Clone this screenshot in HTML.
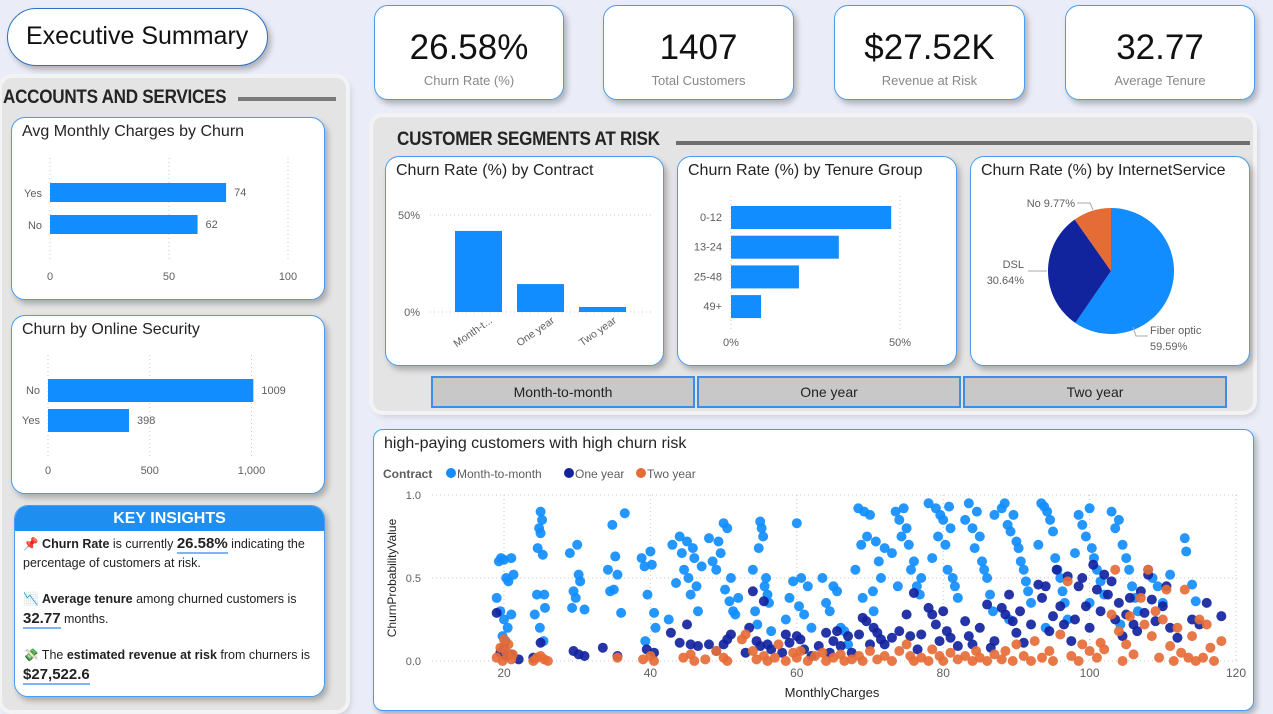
<!DOCTYPE html>
<html><head><meta charset="utf-8">
<style>
*{box-sizing:border-box;margin:0;padding:0}
body{width:1273px;height:714px;overflow:hidden;background:#eaedf8;font-family:"Liberation Sans","DejaVu Sans",sans-serif;position:relative;color:#252423}
.abs{position:absolute}
.card{position:absolute;background:#fff;border:1.5px solid #4a9cf0;border-radius:14px;box-shadow:3px 4px 6px rgba(0,0,0,0.25)}
.panel{position:absolute;background:#e4e4e4;border-radius:10px;box-shadow:0 0 0 4px #f3f3f6,3px 4px 8px rgba(0,0,0,0.2)}
.ttl{position:absolute;left:10px;top:5px;font-size:16px;color:#252423;white-space:nowrap}
.kv{position:absolute;left:0;right:0;top:22px;text-align:center;font-size:35px;color:#111}
.kl{position:absolute;left:0;right:0;top:67px;text-align:center;font-size:13px;color:#888}
.hdr{position:absolute;font-weight:bold;font-size:19px;color:#252423;letter-spacing:-0.3px;white-space:nowrap;transform-origin:0 0;transform:scaleX(0.9)}
.btn{position:absolute;top:376px;height:32px;background:#c8c8c8;border:2px solid #3a8ee6;text-align:center;line-height:28px;font-size:14px;color:#222}
.ins{font-size:12.5px;line-height:19px;color:#222}
.ins b.u{border-bottom:2px solid #7fb6f0;font-size:15px}
</style></head><body>
<div class="card" style="left:7px;top:8px;width:261px;height:58px;border-radius:29px;border-color:#2f6fc4">
 <div style="position:absolute;left:18px;top:13px;font-size:25px;color:#111">Executive Summary</div></div>

<div class="card" style="left:374px;top:5px;width:190px;height:95px"><div class="kv">26.58%</div><div class="kl">Churn Rate (%)</div></div>
<div class="card" style="left:603px;top:5px;width:191px;height:95px"><div class="kv">1407</div><div class="kl">Total Customers</div></div>
<div class="card" style="left:834px;top:5px;width:191px;height:95px"><div class="kv">$27.52K</div><div class="kl">Revenue at Risk</div></div>
<div class="card" style="left:1065px;top:5px;width:190px;height:95px"><div class="kv">32.77</div><div class="kl">Average Tenure</div></div>

<div class="panel" style="left:2px;top:78px;width:344px;height:632px"></div>
<div class="hdr" style="left:3px;top:87px">ACCOUNTS AND SERVICES</div>
<div class="abs" style="left:238px;top:97px;width:98px;height:4px;background:#7a7a7a"></div>
<div class="card" style="left:11px;top:117px;width:314px;height:183px"><div class="ttl">Avg Monthly Charges by Churn</div></div>
<div class="card" style="left:11px;top:315px;width:314px;height:179px"><div class="ttl">Churn by Online Security</div></div>
<div class="card" style="left:14px;top:505px;width:311px;height:192px;overflow:hidden;border-color:#4a9cf0">
 <div style="height:25px;background:#1f8ef1;color:#fff;text-align:center;font-weight:bold;font-size:16px;line-height:26px">KEY INSIGHTS</div>
 <div class="ins" style="padding:3px 6px 0 8px">
  <div>📌 <b>Churn Rate</b> is currently <b class="u">26.58%</b> indicating the percentage of customers at risk.</div>
  <div style="margin-top:17px">📉 <b>Average tenure</b> among churned customers is <b class="u">32.77</b> months.</div>
  <div style="margin-top:17px">💸 The <b>estimated revenue at risk</b> from churners is <b class="u">$27,522.6</b></div>
 </div></div>

<div class="panel" style="left:373px;top:117px;width:880px;height:294px"></div>
<div class="hdr" style="left:397px;top:129px">CUSTOMER SEGMENTS AT RISK</div>
<div class="abs" style="left:676px;top:141px;width:574px;height:4px;background:#6e6e6e"></div>
<div class="card" style="left:385px;top:156px;width:279px;height:210px"><div class="ttl">Churn Rate (%) by Contract</div></div>
<div class="card" style="left:677px;top:156px;width:280px;height:210px"><div class="ttl">Churn Rate (%) by Tenure Group</div></div>
<div class="card" style="left:970px;top:156px;width:280px;height:210px"><div class="ttl">Churn Rate (%) by InternetService</div></div>
<div class="btn" style="left:431px;width:264px">Month-to-month</div>
<div class="btn" style="left:697px;width:264px">One year</div>
<div class="btn" style="left:963px;width:264px">Two year</div>

<div class="card" style="left:373px;top:429px;width:881px;height:282px;border-radius:10px"><div class="ttl" style="top:5px">high-paying customers with high churn risk</div></div>

<svg id="charts" class="abs" style="left:0;top:0" width="1273" height="714" font-family="Liberation Sans, sans-serif"></svg>

<script>
const chargeCats=["Yes","No"];
const chargeVals=[74,62];
const chargeTicks=[0,50,100];
const secCats=["No","Yes"];
const secVals=[1009,398];
const secTicks=[0,500,1000];
const secTickLabels=["0","500","1,000"];
const contractCats=["Month-t...","One year","Two year"];
const contractVals=[41.8,14.4,2.6];
const tenureCats=["0-12","13-24","25-48","49+"];
const tenureVals=[47.4,31.9,20.1,8.9];
const pieCats=["Fiber optic","DSL","No"];
const pieVals=[59.59,30.64,9.77];
const scatterXTicks=[20,40,60,80,100,120];
const scatterYTicks=[0,0.5,1];
const mtm=[[19,0.38],[19.3,0.6],[19.6,0.62],[20,0.61],[20.3,0.5],[20.6,0.48],[21,0.62],[21.3,0.52],[19.5,0.3],[20,0.25],[20.5,0.2],[19.8,0.15],[21,0.28],[20.2,0.12],
[24.5,0.4],[25,0.9],[25.2,0.85],[24.8,0.8],[25,0.77],[24.6,0.68],[25.3,0.64],[25.5,0.4],[25.6,0.32],[24.9,0.2],[25.4,0.12],[24.2,0.28],
[29,0.65],[29.5,0.42],[29.8,0.38],[30,0.7],[30.2,0.52],[30.4,0.48],[29.3,0.32],[31,0.31],
[34.2,0.55],[34.5,0.42],[34.8,0.82],[35.2,0.63],[35.5,0.52],[36,0.29],[36.5,0.89],[35,0.43],
[38.8,0.62],[39.2,0.57],[39.6,0.4],[40,0.66],[40.2,0.58],[40.5,0.29],[40.7,0.2],[39.3,0.12],
[43,0.7],[43.5,0.47],[44,0.75],[44.3,0.65],[44.6,0.55],[45,0.72],[45.2,0.5],[45.5,0.4],[45.8,0.68],[46,0.62],[46.3,0.45],[46.5,0.3],[47,0.57],[42.5,0.25],
[48,0.74],[48.5,0.6],[49,0.55],[49.3,0.72],[49.6,0.65],[50,0.83],[50.2,0.43],[50.5,0.8],[50.8,0.36],[51,0.5],[51.3,0.3],[51.6,0.28],[52,0.38],
[54,0.55],[54.3,0.3],[54.6,0.22],[55,0.84],[55.2,0.8],[55.4,0.75],[55.6,0.45],[55.8,0.5],[56,0.4],[56.2,0.35],[54.8,0.68],[56.5,0.18],
[58.5,0.25],[59,0.38],[59.5,0.48],[60,0.83],[60.3,0.33],[60.6,0.5],[61,0.28],[61.5,0.45],[62,0.2],
[63.5,0.5],[64,0.35],[64.5,0.3],[65,0.45],[65.5,0.42],[66,0.2],[66.5,0.18],[67,0.1],
[68,0.55],[68.4,0.92],[68.8,0.7],[69.2,0.9],[69.6,0.75],[70,0.88],[70.4,0.42],[70.8,0.72],[71.2,0.6],[71.5,0.5],[72,0.68],[69,0.38],[70.5,0.3],
[73,0.65],[73.5,0.9],[74,0.85],[74.3,0.75],[74.6,0.92],[75,0.8],[75.3,0.7],[75.6,0.55],[76,0.6],[76.4,0.45],[76.8,0.4],[77,0.5],[73.8,0.45],
[78,0.95],[78.5,0.62],[79,0.92],[79.3,0.75],[79.6,0.88],[80,0.85],[80.3,0.7],[80.6,0.55],[81,0.8],[81.3,0.5],[81.6,0.45],[82,0.38],[80.8,0.93],
[83,0.85],[83.5,0.95],[84,0.8],[84.3,0.68],[84.6,0.9],[85,0.75],[85.3,0.6],[85.6,0.55],[86,0.5],[86.4,0.4],[86.8,0.3],[87,0.88],
[88,0.92],[88.4,0.95],[88.8,0.82],[89.2,0.78],[89.6,0.88],[90,0.72],[90.3,0.68],[90.6,0.6],[91,0.55],[91.3,0.48],[91.6,0.42],[92,0.35],[89,0.25],
[93,0.7],[93.4,0.95],[93.8,0.93],[94.2,0.9],[94.6,0.85],[95,0.78],[95.3,0.62],[95.6,0.55],[96,0.5],[96.3,0.42],[96.6,0.35],[97,0.25],[94,0.2],
[98,0.65],[98.5,0.88],[99,0.82],[99.5,0.75],[100,0.92],[100.3,0.68],[100.6,0.62],[101,0.55],[101.5,0.48],[102,0.4],[100,0.35],
[103,0.9],[103.5,0.8],[104,0.85],[104.5,0.7],[105,0.62],[105.4,0.55],[105.8,0.45],[106.2,0.38],[106.6,0.3],[104.2,0.22],
[108,0.55],[108.6,0.5],[109.3,0.45],[110,0.35],[111,0.52],[113,0.74],[113.2,0.66],[114,0.46],[114.5,0.36]];
const oneYear=[[19,0.29],[19.5,0.05],[20,0.08],[20.3,0.03],[21,0.04],[22,0.01],[24,0.02],[25,0.11],[29.5,0.06],[30.2,0.04],[31,0.03],[33.5,0.08],[35.5,0.03],[39.5,0.07],[40.5,0.05],
[42.8,0.17],[44,0.11],[45,0.22],[45.5,0.1],[46.5,0.09],[48,0.1],[49,0.06],[50,0.1],[50.5,0.13],[51,0.16],[53,0.05],[53.5,0.2],[54,0.42],[54.5,0.12],[55,0.09],[55.5,0.36],[56,0.1],[56.5,0.07],[58,0.05],[58.5,0.16],[59,0.11],[60,0.15],[60.5,0.13],[61,0.07],[62,0.03],[63,0.09],[64,0.17],[64.5,0.05],[65,0.12],[65.5,0.18],[66,0.09],[67,0.15],[67.5,0.05],
[68.5,0.16],[69,0.26],[69.5,0.24],[70,0.1],[70.5,0.2],[71,0.17],[71.5,0.13],[72,0.1],[73,0.14],[74,0.18],[75,0.28],[75.5,0.15],[76,0.41],[76.5,0.07],[77,0.16],
[78,0.32],[78.5,0.28],[79,0.22],[79.5,0.12],[80,0.3],[80.5,0.18],[81,0.14],[82,0.09],[83,0.24],[83.5,0.15],[84,0.1],[85,0.2],[86,0.34],[86.5,0.08],[87,0.12],
[88,0.32],[88.5,0.28],[89,0.4],[89.5,0.24],[90,0.17],[90.5,0.3],[91,0.11],[92,0.22],[93,0.46],[93.5,0.38],[94,0.45],[94.5,0.18],[95,0.27],[95.5,0.55],[96,0.33],[96.5,0.22],[97,0.51],[97.5,0.12],
[98,0.25],[98.5,0.45],[99,0.5],[99.5,0.33],[100,0.2],[100.5,0.58],[101,0.43],[101.5,0.3],[102,0.52],[102.5,0.4],[103,0.48],[103.5,0.25],[104,0.35],[104.5,0.15],[105,0.28],[105.5,0.38],[106,0.22],[106.5,0.18],[107,0.42],[107.5,0.29],[108,0.52],[108.5,0.37],[109,0.24],[110,0.33],[110.5,0.45],[111,0.2],[112,0.14],[114,0.25],[115,0.22],[116,0.35],[118,0.27]];
const twoYear=[[19,0.02],[19.5,0.08],[20,0.13],[20.3,0.05],[20.6,0.1],[21,0.01],[21.2,0.04],[19.8,0.0],[24.5,0.02],[25,0.03],[25.5,0.01],[26,0.0],[24,0.0],[35.5,0.02],[39,0.01],[40,0.03],[40.5,0.0],[44.5,0.02],[45.5,0.04],[46,0.0],[47.5,0.01],[49,0.06],[50,0.02],[50.5,0.0],[52.5,0.13],[53,0.16],[54,0.06],[54.5,0.01],[55.5,0.03],[56,0.0],[57,0.02],[57.5,0.1],[58.5,0.0],[59.5,0.05],[60,0.02],[60.5,0.06],[61.5,0.0],[62.5,0.03],[63.5,0.05],[64,0.0],[65,0.02],[66,0.04],[66.5,0.0],[67.5,0.01],[68.5,0.03],[69,0.0],[70,0.06],[71,0.01],[72,0.03],[73,0.0],[74,0.06],[75,0.1],[75.5,0.03],[76,0.0],[77,0.02],[78,0.0],[78.5,0.07],[79.5,0.03],[80,0.0],[81,0.05],[82,0.01],[83,0.03],[84,0.0],[84.5,0.06],[85,0.02],[86,0.0],[87,0.04],[88,0.01],[88.5,0.06],[89.5,0.0],[90,0.1],[91,0.03],[92,0.0],[92.5,0.12],[93.5,0.02],[94.5,0.06],[95,0.0],[96,0.16],[97,0.48],[97.5,0.03],[98.5,0.0],[99,0.1],[100,0.06],[101,0.02],[101.5,0.11],[102,0.07],[103,0.28],[103.5,0.55],[104,0.18],[104.5,0.0],[105,0.1],[105.5,0.27],[106,0.04],[107,0.38],[107.5,0.22],[108,0.55],[108.5,0.15],[109,0.3],[109.5,0.02],[110,0.25],[110.5,0.43],[111,0.09],[111.5,0.0],[112,0.2],[112.5,0.05],[113,0.43],[113.5,0.02],[114,0.15],[114.5,0.0],[115,0.25],[115.5,0.02],[116,0.22],[116.5,0.08],[117,0.0],[118,0.12]];

const svg=document.getElementById('charts');
const NS='http://www.w3.org/2000/svg';
function mk(tag,at,parent){const e=document.createElementNS(NS,tag);for(const k in at)e.setAttribute(k,at[k]);(parent||svg).appendChild(e);return e;}
function txt(s,at){const t=mk('text',at);t.textContent=s;return t;}
const BLUE='#118DFF',NAVY='#12239E',ORANGE='#E66C37',GRID='#c8c8c8',LBL='#605E5C';

// Avg monthly charges
{const sx=v=>50+v*2.38;const y0=183,step=32,bh=19;
chargeTicks.forEach(t=>{const l=mk('line',{x1:sx(t),x2:sx(t),y1:158,y2:262,stroke:GRID,'stroke-dasharray':'1,3'});
 const tt=txt(String(t),{x:sx(t),y:280,'font-size':11,fill:LBL,'text-anchor':'middle'});});
chargeCats.forEach((c,i)=>{const y=y0+i*step;
 const r=mk('rect',{x:sx(0),y:y,width:sx(chargeVals[i])-sx(0),height:bh,fill:BLUE});
 const a=txt(c,{x:42,y:y+14,'font-size':11,fill:LBL,'text-anchor':'end'});
 const b=txt(String(chargeVals[i]),{x:sx(chargeVals[i])+8,y:y+13,'font-size':11,fill:LBL});});}

// Online security
{const sx=v=>48+v*0.2035;const y0=379,step=30,bh=23;
secTicks.forEach((t,i)=>{const l=mk('line',{x1:sx(t),x2:sx(t),y1:355,y2:458,stroke:GRID,'stroke-dasharray':'1,3'});
 const tt=txt(secTickLabels[i],{x:sx(t),y:474,'font-size':11,fill:LBL,'text-anchor':'middle'});});
secCats.forEach((c,i)=>{const y=y0+i*step;
 const r=mk('rect',{x:sx(0),y:y,width:sx(secVals[i])-sx(0),height:bh,fill:BLUE});
 const a=txt(c,{x:40,y:y+15,'font-size':11,fill:LBL,'text-anchor':'end'});
 const b=txt(String(secVals[i]),{x:sx(secVals[i])+8,y:y+15,'font-size':11,fill:LBL});});}

// Contract column
{const sy=v=>312-v*1.94;
[0,50].forEach(t=>{const l=mk('line',{x1:430,x2:652,y1:sy(t),y2:sy(t),stroke:GRID,'stroke-dasharray':'1,3'});
 const tt=txt(t+'%',{x:420,y:sy(t)+4,'font-size':11,fill:LBL,'text-anchor':'end'});});
contractCats.forEach((c,i)=>{const x=455+i*62;
 const r=mk('rect',{x:x,y:sy(contractVals[i]),width:47,height:sy(0)-sy(contractVals[i]),fill:BLUE});
 const cx=x+38,cy=322;const a=txt(c,{x:cx,y:cy,'font-size':10.5,fill:LBL,'text-anchor':'end',transform:`rotate(-35 ${cx} ${cy})`});});}

// Tenure bars
{const sx=v=>731+v*3.38;const y0=206,step=29.7,bh=23;
[0,50].forEach(t=>{const l=mk('line',{x1:sx(t),x2:sx(t),y1:196,y2:330,stroke:GRID,'stroke-dasharray':'1,3'});
 const tt=txt(t+'%',{x:sx(t),y:346,'font-size':11,fill:LBL,'text-anchor':'middle'});});
tenureCats.forEach((c,i)=>{const y=y0+i*step;
 const r=mk('rect',{x:sx(0),y:y,width:sx(tenureVals[i])-sx(0),height:bh,fill:BLUE});
 const a=txt(c,{x:722,y:y+15,'font-size':11,fill:LBL,'text-anchor':'end'});});}

// Pie
{const cx=1111,cy=271,r=63;const cols=[BLUE,NAVY,ORANGE];const tot=pieVals.reduce((a,b)=>a+b,0);let a0=0;
pieVals.forEach((v,i)=>{const a1=a0+v/tot*2*Math.PI;
 const p=(a)=>[cx+r*Math.sin(a),cy-r*Math.cos(a)];const [x0,y0]=p(a0),[x1,y1]=p(a1);
 const s=mk('path',{d:`M${cx},${cy} L${x0},${y0} A${r},${r} 0 ${a1-a0>Math.PI?1:0} 1 ${x1},${y1} Z`,fill:cols[i]});a0=a1;});
mk('polyline',{points:'1133,327 1136,336 1148,336',fill:'none',stroke:'#aaa'});
mk('polyline',{points:'1028,271 1047,271',fill:'none',stroke:'#aaa'});
mk('polyline',{points:'1077,203 1090,203 1093,210',fill:'none',stroke:'#aaa'});
const l1=txt(pieCats[2]+' '+pieVals[2]+'%',{x:1075,y:207,'font-size':11,fill:LBL,'text-anchor':'end'});
const l2=txt(pieCats[1],{x:1024,y:268,'font-size':11,fill:LBL,'text-anchor':'end'});
const l3=txt(pieVals[1]+'%',{x:1024,y:284,'font-size':11,fill:LBL,'text-anchor':'end'});
const l4=txt(pieCats[0],{x:1150,y:334,'font-size':11,fill:LBL});
const l5=txt(pieVals[0]+'%',{x:1150,y:350,'font-size':11,fill:LBL});}

// Scatter
{const sx=v=>504+(v-20)*7.32, sy=v=>661-v*166;
const lg=txt('Contract',{x:383,y:478,'font-size':12,'font-weight':'bold',fill:LBL});
[['Month-to-month',BLUE,451],['One year',NAVY,569],['Two year',ORANGE,641]].forEach(([n,c,x])=>{const d=mk('circle',{cx:x,cy:473,r:5,fill:c});
 const t=txt(n,{x:x+6,y:478,'font-size':12,fill:LBL});});
scatterYTicks.forEach(t=>{const l=mk('line',{x1:432,x2:1238,y1:sy(t),y2:sy(t),stroke:GRID,'stroke-dasharray':'1,3'});
 const tt=txt(t.toFixed(1),{x:421,y:sy(t)+4,'font-size':11,fill:LBL,'text-anchor':'end'});});
scatterXTicks.forEach(t=>{const l=mk('line',{x1:sx(t),x2:sx(t),y1:495,y2:661,stroke:GRID,'stroke-dasharray':'1,3'});
 const tt=txt(String(t),{x:sx(t),y:677,'font-size':12,fill:LBL,'text-anchor':'middle'});});
[[mtm,BLUE,'month-to-month'],[oneYear,NAVY,'one-year'],[twoYear,ORANGE,'two-year']].forEach(([arr,c,n])=>{arr.forEach(([x,y])=>{const d=mk('circle',{cx:sx(x),cy:sy(y),r:5,fill:c,'fill-opacity':0.92});});});
const xt=txt('MonthlyCharges',{x:832,y:697,'font-size':13,fill:'#252423','text-anchor':'middle'});
const yt=txt('ChurnProbabilityValue',{x:396,y:578,'font-size':12,fill:'#252423','text-anchor':'middle',transform:'rotate(-90 396 578)'});}
</script>
</body></html>
